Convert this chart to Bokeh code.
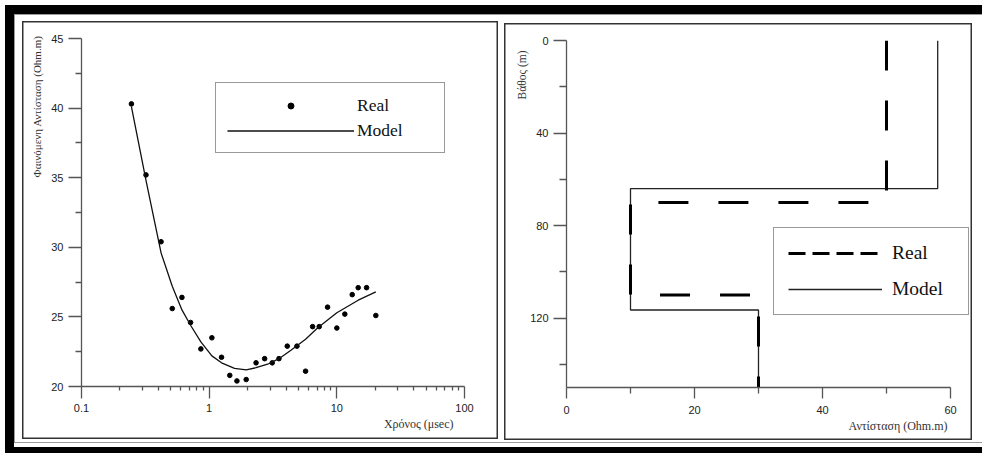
from bokeh.plotting import figure
from bokeh.models import (Range1d, FixedTicker, Legend, LegendItem, Title,
                          CustomJSTickFormatter)
from bokeh.layouts import row
from bokeh.embed import file_html
from bokeh.resources import INLINE

# ---------------- data ----------------
time_real = [0.246, 0.32, 0.42, 0.514, 0.612, 0.715, 0.861, 1.05, 1.25, 1.45,
             1.65, 1.95, 2.33, 2.72, 3.12, 3.52, 4.09, 4.87, 5.69, 6.46,
             7.28, 8.46, 10.0, 11.55, 13.2, 14.7, 17.1, 20.2]
rho_real = [40.3, 35.2, 30.4, 25.6, 26.4, 24.6, 22.7, 23.5, 22.1, 20.8,
            20.4, 20.5, 21.7, 22.0, 21.7, 22.0, 22.9, 22.9, 21.1, 24.3,
            24.3, 25.7, 24.2, 25.2, 26.6, 27.1, 27.1, 25.1]

time_model = [0.246, 0.32, 0.42, 0.514, 0.612, 0.715, 0.861, 1.05, 1.25, 1.58,
              1.95, 2.33, 2.87, 3.52, 4.37, 5.69, 7.06, 10.0, 14.7, 20.2]
rho_model = [40.1, 34.8, 29.6, 27.2, 25.5, 24.4, 23.2, 22.2, 21.7, 21.3,
             21.2, 21.35, 21.6, 22.0, 22.6, 23.4, 24.2, 25.3, 26.2, 26.8]

res_real = [50, 50, 10, 10, 30, 30]
depth_real = [0, 70, 70, 110, 110, 150]
res_model = [58, 58, 10, 10, 30, 30]
depth_model = [0, 64, 64, 116.5, 116.5, 150]

left_yticks = [20, 25, 30, 35, 40, 45]
left_xticks = [0.1, 1, 10, 100]
right_xticks = [0, 20, 40, 60]
right_yticks = [0, 40, 80, 120]

TICK_FONT = "Liberation Sans"
SERIF = "Liberation Serif"
AXIS_COLOR = "#555555"
PANEL_STYLE = {"box-shadow": "inset 0 0 0 1.5px #333333"}


def style_axis(ax, tick_out, minor_out):
    ax.axis_line_color = AXIS_COLOR
    ax.axis_line_width = 1.3
    ax.major_tick_line_color = AXIS_COLOR
    ax.minor_tick_line_color = AXIS_COLOR
    ax.major_tick_line_width = 1.3
    ax.minor_tick_line_width = 1.3
    ax.major_tick_out = tick_out
    ax.major_tick_in = 0
    ax.minor_tick_out = minor_out
    ax.minor_tick_in = 0
    ax.major_label_text_font = TICK_FONT
    ax.major_label_text_font_size = "11px"
    ax.major_label_text_color = "#222222"
    ax.major_label_standoff = 5


def axis_title(text, size, align, offset, standoff):
    return Title(text=text, align=align, offset=offset, standoff=standoff,
                 text_font=SERIF, text_font_size=size, text_font_style="normal",
                 text_color="#333333")


def bare(p):
    p.xgrid.visible = False
    p.ygrid.visible = False
    p.outline_line_color = None
    p.background_fill_alpha = 0
    p.border_fill_alpha = 0


# ---------------- left panel ----------------
p1 = figure(width=476, height=418, x_axis_type="log",
            x_range=Range1d(0.1, 100), y_range=Range1d(20, 45),
            output_backend="svg", toolbar_location=None,
            min_border_left=58, min_border_right=34,
            min_border_top=17, min_border_bottom=53,
            margin=(21, 3, 14, 22), styles=PANEL_STYLE)
bare(p1)

minor_log = [k * 10.0 ** d for d in (-1, 0, 1) for k in range(2, 10)]
p1.xaxis.ticker = FixedTicker(ticks=left_xticks, minor_ticks=minor_log)
p1.xaxis.formatter = CustomJSTickFormatter(code="return tick.toString();")
p1.yaxis.ticker = FixedTicker(ticks=left_yticks,
                              minor_ticks=[v + 2.5 for v in left_yticks[:-1]])
style_axis(p1.xaxis[0], 12, 4)
style_axis(p1.yaxis[0], 13, 6)

dots = p1.scatter(time_real, rho_real, size=4.6, color="black")
mline = p1.line(time_model, rho_model, line_color="#111111", line_width=1.3)

leg1 = Legend(items=[LegendItem(label="Real", renderers=[dots]),
                     LegendItem(label="Model", renderers=[mline])],
              location=(134, 233), padding=11, spacing=3, margin=0,
              glyph_width=127, glyph_height=15, label_height=22, label_width=76,
              label_standoff=3, label_text_font=SERIF, label_text_font_size="17.5px",
              label_text_color="#111111",
              border_line_color="#333333", border_line_width=1.3,
              background_fill_color="white", background_fill_alpha=1)
p1.add_layout(leg1)
p1.add_layout(axis_title("Χρόνος (μsec)", "12px", "right", 11, 0), "below")
p1.add_layout(axis_title("Φαινόμενη Αντίσταση (Ohm.m)", "11px", "right", -3, 12), "left")

# ---------------- right panel ----------------
p2 = figure(width=468, height=417,
            x_range=Range1d(0, 60 + 22 / 6.4), y_range=Range1d(150, 0),
            output_backend="svg", toolbar_location=None,
            min_border_left=62, min_border_right=0,
            min_border_top=17, min_border_bottom=52,
            margin=(23, 10, 13, 3), styles=PANEL_STYLE)
bare(p2)

p2.xaxis.ticker = FixedTicker(ticks=right_xticks, minor_ticks=[10, 30, 50])
p2.xaxis.bounds = (0, 60)
p2.yaxis.ticker = FixedTicker(ticks=right_yticks, minor_ticks=[20, 60, 100, 140])
style_axis(p2.xaxis[0], 11, 6)
style_axis(p2.yaxis[0], 13, 7)
p2.xaxis.major_label_standoff = 7

model2 = p2.line(res_model, depth_model, line_color="#222222", line_width=1.3)
real2 = p2.line(res_real, depth_real, line_color="black", line_width=3, line_dash="30 30")
real_leg = p2.line(x=[float("nan")], y=[float("nan")], line_color="black",
                   line_width=3, line_dash="17 7")

leg2 = Legend(items=[LegendItem(label="Real", renderers=[real_leg]),
                     LegendItem(label="Model", renderers=[model2])],
              location=(207, 72), padding=14, spacing=14, margin=0,
              glyph_width=94, glyph_height=20, label_height=20, label_width=62,
              label_standoff=10, label_text_font=SERIF, label_text_font_size="19.5px",
              label_text_color="#111111",
              border_line_color="#333333", border_line_width=1.3,
              background_fill_color="white", background_fill_alpha=1)
p2.add_layout(leg2)
p2.add_layout(axis_title("Αντίσταση (Ohm.m)", "12px", "right", 25, 0), "below")
p2.add_layout(axis_title("Βάθος (m)", "11.5px", "right", 10, 0), "left")

frame_style = {
    "background-color": "white",
    "box-shadow": ("inset 5px 5px 0 0 white, inset 0 -6px 0 0 black, "
                   "inset 14px 14px 0 0 black, inset 0 -10px 0 0 white, "
                   "inset 15px 15px 0 0 #9a9a9a, inset 0 -11px 0 0 #9a9a9a"),
}
layout = row(p1, p2, spacing=0, styles=frame_style)
open("out.html", "w").write(file_html(layout, INLINE))
